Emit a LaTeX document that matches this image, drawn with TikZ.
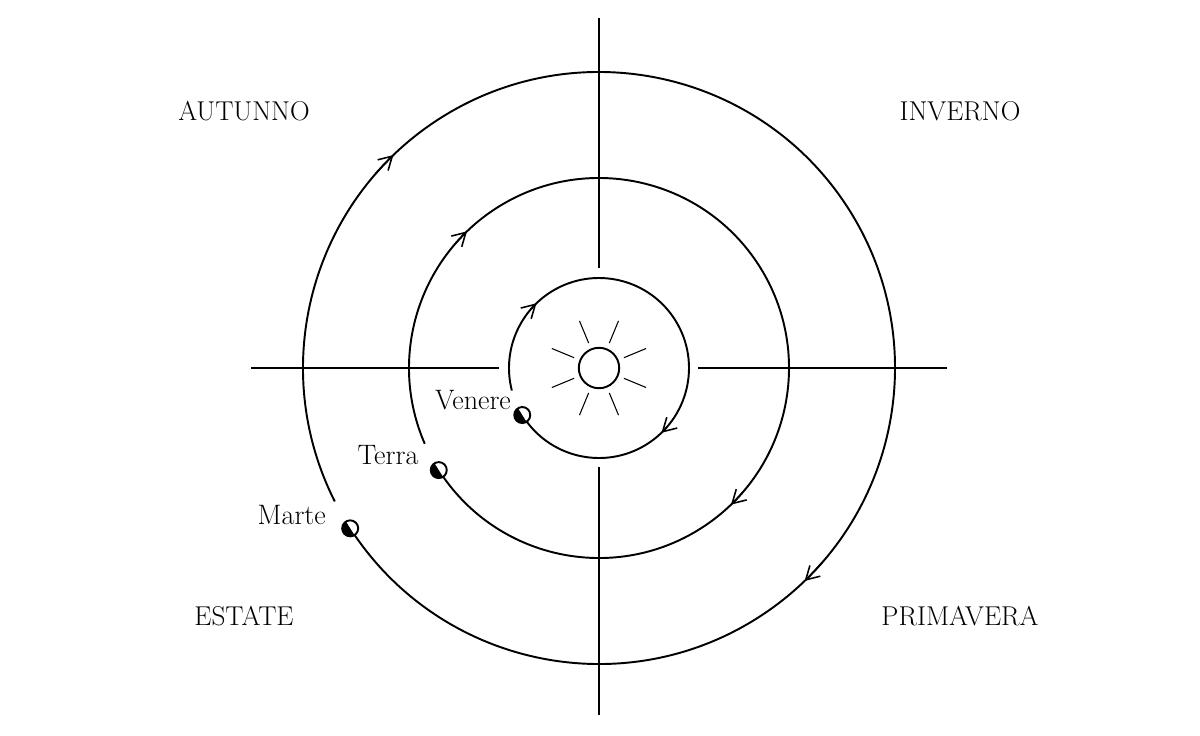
\documentclass[tikz,border=0pt]{standalone}
\usepackage{tikz}
\usetikzlibrary{arrows.meta,calc,positioning}
\tikzstyle{orb}=[line width=1.1pt]
\tikzstyle{ax}=[line width=1.7pt]
\tikzstyle{season}=[font=\fontsize{15.5}{17}\selectfont]
\tikzstyle{pname}=[font=\fontsize{16}{18}\selectfont,inner sep=0pt,anchor=base east]
\tikzstyle{tipo}=[draw,-{Straight Barb[length=2.6mm,width=3mm]},line width=0.9pt]
\newcommand{\orbita}[3]{% radius, planet angle, gap (deg)
  \draw[orb] (#2:#1) arc[start angle=#2,end angle=#2+360-#3,radius=#1];
  \draw[tipo] (139:#1) arc[start angle=139,end angle=134,radius=#1];
  \draw[tipo] (-41:#1) arc[start angle=-41,end angle=-46,radius=#1];
}
\newcommand{\pianeta}[2]{% radius, angle
  \fill[white] (#2:#1) circle (8);
  \fill ($(#2:#1)+(122:8)$) arc[start angle=122,end angle=302,radius=8] -- cycle;
  \draw[line width=1.1pt] (#2:#1) circle (8);
}
\begin{document}
\begin{tikzpicture}[x=0.02cm,y=0.02cm]
		\useasboundingbox (-599,-367) rectangle (601,368);
		% assi
		\draw[ax] (-348,0) -- (-100,0);
		\draw[ax] (99,0) -- (348,0);
		\draw[ax] (0,350) -- (0,100);
		\draw[ax] (0,-99) -- (0,-347);
		% sole
		\node[draw,circle,line width=1.1pt,minimum size=23,inner sep=0pt] (sole) at (0,0) {};
		\foreach \a in {22.5,67.5,...,337.5}
			\draw[line width=0.6pt] (\a:27) -- (\a:51);
		% orbite
		\orbita{90}{211.5}{17}
		\orbita{190}{212.5}{9}
		\orbita{296}{212.8}{6}
		\pianeta{90}{211.5}
		\pianeta{190}{212.5}
		\pianeta{296}{212.8}
		\coordinate (venere) at (211.5:90);
		\coordinate (terra) at (212.5:190);
		\coordinate (marte) at (212.8:296);
		\node[pname] (lven) at ($(venere)+(-11,6)$) {Venere};
		\node[pname] (lter) at ($(terra)+(-20,6)$) {Terra};
		\node[pname] (lmar) at ($(marte)+(-24,4)$) {Marte};
		% stagioni
		\node[season] (aut) at (-355,257) {AUTUNNO};
		\node[season] (inv) at (361,257) {INVERNO};
		\node[season] (est) at (-355,-248) {ESTATE};
		\node[season] (pri) at (361,-248) {PRIMAVERA};
\end{tikzpicture}
\end{document}
